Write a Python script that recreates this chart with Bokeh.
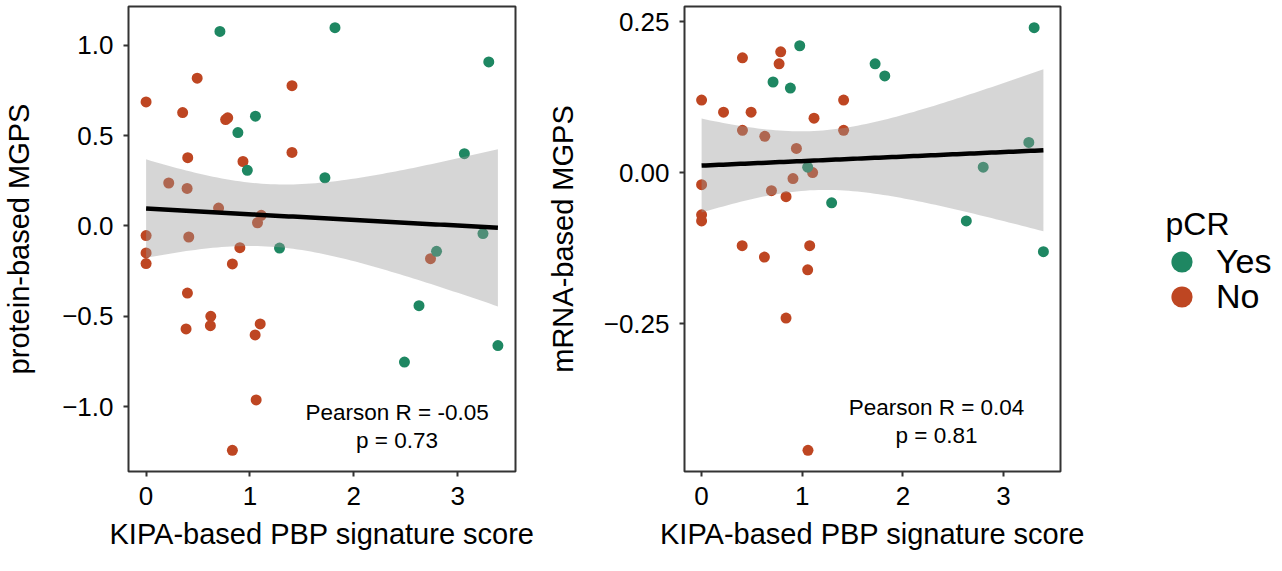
import numpy as np
from bokeh.plotting import figure
from bokeh.models import Range1d, FixedTicker, CustomJSTickFormatter, Label, Legend, LegendItem
from bokeh.layouts import row
from bokeh.embed import file_html
from bokeh.resources import INLINE

FONT = "Liberation Sans"
GREEN = "#1E8762"
ORANGE = "#BE4622"

# ---------------- data: protein-based MGPS panel ----------------
prot_yes_x = [0.711, 1.819, 3.300, 1.053, 0.884, 0.975, 1.722, 3.065, 3.244, 1.285, 2.797, 2.628, 2.488, 3.388]
prot_yes_y = [1.077, 1.098, 0.908, 0.608, 0.517, 0.308, 0.267, 0.400, -0.042, -0.122, -0.140, -0.441, -0.753, -0.662]
prot_no_x = [0.0, 0.492, 0.352, 0.766, 0.786, 1.405, 0.401, 0.933, 1.405, 0.218, 0.395, 0.698, 1.109, 1.073,
             0.0, 0.411, 0.0, 0.0, 0.903, 0.831, 2.739, 0.398, 0.385, 0.623, 0.619, 1.099, 1.050, 1.060, 0.831]
prot_no_y = [0.687, 0.818, 0.628, 0.589, 0.599, 0.777, 0.378, 0.357, 0.407, 0.238, 0.208, 0.099, 0.059, 0.018,
             -0.053, -0.061, -0.149, -0.208, -0.120, -0.210, -0.181, -0.371, -0.570, -0.500, -0.552, -0.542,
             -0.603, -0.963, -1.242]

# ---------------- data: mRNA-based MGPS panel ----------------
mrna_yes_x = [3.304, 0.975, 1.724, 1.820, 0.710, 0.882, 3.251, 1.054, 2.798, 1.292, 2.630, 3.396]
mrna_yes_y = [0.240, 0.210, 0.180, 0.160, 0.150, 0.140, 0.050, 0.009, 0.009, -0.050, -0.080, -0.131]
mrna_no_x = [0.406, 0.786, 0.770, 0.0, 1.411, 0.218, 0.492, 1.117, 0.406, 1.411, 0.628, 0.942, 1.103,
             0.908, 0.694, 0.0, 0.839, 0.0, 0.0, 0.403, 1.074, 0.624, 1.054, 0.839, 1.057]
mrna_no_y = [0.190, 0.200, 0.180, 0.120, 0.120, 0.100, 0.100, 0.090, 0.070, 0.070, 0.060, 0.040, 0.000,
             -0.010, -0.030, -0.020, -0.040, -0.070, -0.080, -0.121, -0.121, -0.140, -0.161, -0.241, -0.460]

x_title = "KIPA-based PBP signature score"
prot_title = "protein-based MGPS"
mrna_title = "mRNA-based MGPS"
x_ticks = [0, 1, 2, 3]
prot_ticks = [-1.0, -0.5, 0.0, 0.5, 1.0]
mrna_ticks = [-0.25, 0.0, 0.25]
prot_note = ["Pearson R = -0.05", "p = 0.73"]
mrna_note = ["Pearson R = 0.04", "p = 0.81"]
legend_title = "pCR"
legend_labels = ["Yes", "No"]

H = 570


def t975(df):
    z = 1.959964
    return (z + (z**3 + z) / (4 * df) + (5 * z**5 + 16 * z**3 + 3 * z) / (96 * df**2)
            + (3 * z**7 + 19 * z**5 + 17 * z**3 - 15 * z) / (384 * df**3))


def fit_band(x, y, n=80):
    x = np.asarray(x, float)
    y = np.asarray(y, float)
    b, a = np.polyfit(x, y, 1)
    xs = np.linspace(x.min(), x.max(), n)
    yhat = a + b * xs
    resid = y - (a + b * x)
    dof = len(x) - 2
    s = np.sqrt(np.sum(resid**2) / dof)
    sxx = np.sum((x - x.mean())**2)
    se = s * np.sqrt(1.0 / len(x) + (xs - x.mean())**2 / sxx)
    t = t975(dof)
    return xs, yhat, yhat - t * se, yhat + t * se


def expand(v):
    lo, hi = min(v), max(v)
    d = (hi - lo) * 0.05
    return lo - d, hi + d


def panel(yx, yy, nx, ny, ylab, yticks, ydec, min_left, frame_w, min_right, note, note_pos, lab_standoff):
    allx = yx + nx
    ally = yy + ny
    x0, x1 = expand(allx)
    y0, y1 = expand(ally)
    p = figure(frame_width=frame_w, frame_height=465, min_border_left=min_left, min_border_right=min_right,
               min_border_top=6, min_border_bottom=H - 6 - 465, x_range=Range1d(x0, x1),
               y_range=Range1d(y0, y1), output_backend="svg", toolbar_location=None)
    p.grid.grid_line_color = None
    p.outline_line_color = "#333333"
    p.outline_line_width = 2
    p.background_fill_color = "white"
    for ax in p.axis:
        ax.axis_line_color = None
        ax.major_tick_line_color = "#333333"
        ax.major_tick_line_width = 2
        ax.major_tick_out = 5
        ax.major_tick_in = 0
        ax.minor_tick_line_color = None
        ax.major_label_text_font = FONT
        ax.major_label_text_font_size = "26px"
        ax.major_label_text_color = "black"
        ax.major_label_standoff = 10
        ax.axis_label_text_font = FONT
        ax.axis_label_text_font_size = "29px"
        ax.axis_label_text_font_style = "normal"
        ax.axis_label_text_color = "black"
    p.xaxis.axis_label = x_title
    p.xaxis.ticker = FixedTicker(ticks=x_ticks)
    p.xaxis.formatter = CustomJSTickFormatter(code="return tick.toFixed(0);")
    p.xaxis.axis_label_standoff = 10
    p.yaxis.axis_label = ylab
    p.yaxis.ticker = FixedTicker(ticks=yticks)
    p.yaxis.formatter = CustomJSTickFormatter(
        code="return tick.toFixed(%d).replace('-', '\\u2212');" % ydec)
    p.yaxis.axis_label_standoff = lab_standoff

    p.scatter(nx, ny, size=11, color=ORANGE, line_color=None)
    p.scatter(yx, yy, size=11, color=GREEN, line_color=None)
    xs, yh, lo, hi = fit_band(allx, ally)
    p.varea(x=xs, y1=lo, y2=hi, fill_color="#999999", fill_alpha=0.4)
    p.line(xs, yh, line_color="black", line_width=4.5)

    (cx, cy1, cy2) = note_pos
    for txt, cy in zip(note, (cy1, cy2)):
        p.add_layout(Label(x=cx, y=cy, text=txt, text_align="center", text_baseline="alphabetic",
                           text_font=FONT, text_font_size="22.5px", text_color="black"))
    return p


p1 = panel(prot_yes_x, prot_yes_y, prot_no_x, prot_no_y, prot_title, prot_ticks, 1,
           128, 387, 28, prot_note, (2.417, -1.035, -1.189), 24)
p2 = panel(mrna_yes_x, mrna_yes_y, mrna_no_x, mrna_no_y, mrna_title, mrna_ticks, 2,
           140, 376, 30, mrna_note, (2.334, -0.389, -0.435), 22)

# ---------------- legend figure (its frame is aligned with the panels' frames) ----------------
lf = figure(width=191, height=H, min_border=0, x_range=Range1d(0, 1), y_range=Range1d(0, 1),
            x_axis_type=None, y_axis_type=None, output_backend="svg", toolbar_location=None)
lf.grid.grid_line_color = None
lf.outline_line_color = None
key_yes = lf.scatter(x=[np.nan], y=[np.nan], size=21, color=GREEN, line_color=None)
key_no = lf.scatter(x=[np.nan], y=[np.nan], size=21, color=ORANGE, line_color=None)
for lab, rend, ybot in ((legend_labels[0], key_yes, 183), (legend_labels[1], key_no, 148)):
    lf.add_layout(Legend(items=[LegendItem(label=lab, renderers=[rend])],
                         location=(65, ybot), glyph_width=53, glyph_height=53, spacing=0, padding=0,
                         margin=0, border_line_color=None, background_fill_alpha=0, label_standoff=8,
                         label_text_font=FONT, label_text_font_size="34px", label_text_color="black"))
lf.add_layout(Label(x=75, y=248, x_units="screen", y_units="screen", text=legend_title,
                    text_font=FONT, text_font_size="32px", text_baseline="alphabetic", text_color="black"))

layout = row(p1, p2, lf)
open("out.html", "w").write(file_html(layout, INLINE))
